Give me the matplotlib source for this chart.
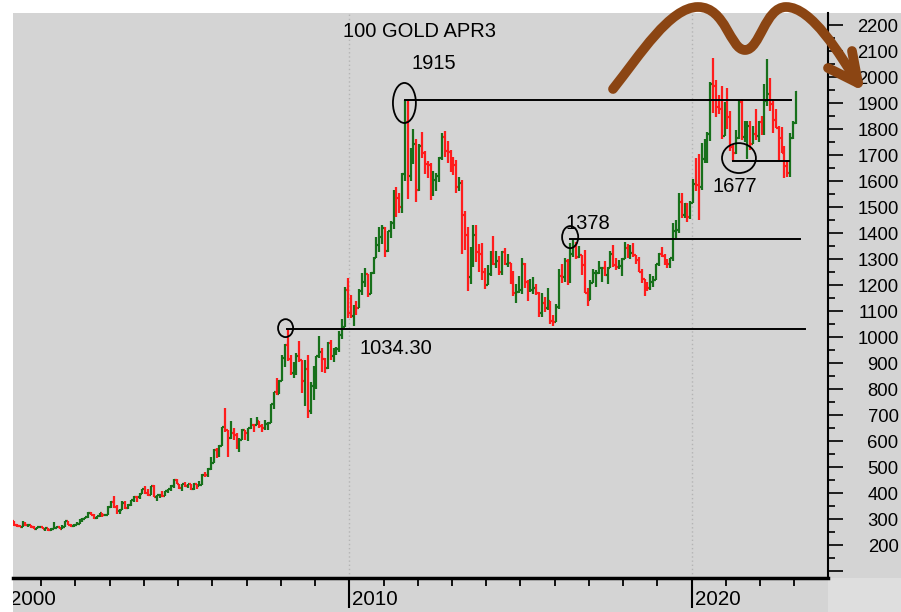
import numpy as np
import matplotlib.pyplot as plt
import matplotlib.transforms as mtransforms
from matplotlib.collections import LineCollection
from matplotlib.lines import Line2D
from matplotlib.patches import Ellipse, Rectangle, PathPatch
from matplotlib.path import Path

plt.rcParams['font.family'] = ['Liberation Sans', 'DejaVu Sans']

# monthly gold bars, Jan 2000 .. Jan 2023 (open = previous close)
start_year = 2000
first_open = 290
closes = [
    283, 293, 278, 274, 272, 288, 277, 278, 273, 264, 270, 273,  # 2000
    265, 267, 258, 264, 267, 271, 265, 273, 293, 279, 275, 279,  # 2001
    282, 297, 302, 308, 326, 318, 305, 312, 324, 316, 318, 347,  # 2002
    368, 348, 334, 337, 364, 346, 354, 375, 388, 386, 398, 416,  # 2003
    400, 396, 427, 388, 393, 395, 391, 408, 416, 429, 452, 438,  # 2004
    422, 435, 428, 435, 417, 435, 429, 434, 473, 470, 495, 517,  # 2005
    569, 556, 583, 654, 643, 613, 633, 624, 599, 604, 646, 632,  # 2006
    650, 665, 662, 679, 659, 650, 666, 673, 743, 789, 783, 834,  # 2007
    923, 972, 917, 864, 886, 930, 913, 833, 880, 718, 814, 884,  # 2008
    928, 943, 916, 883, 979, 927, 955, 955, 1008, 1040, 1182, 1096,  # 2009
    1081, 1117, 1113, 1180, 1213, 1244, 1169, 1248, 1307, 1357, 1385, 1421,  # 2010
    1333, 1410, 1439, 1556, 1536, 1502, 1628, 1828, 1620, 1722, 1746, 1566,  # 2011
    1738, 1710, 1669, 1664, 1562, 1604, 1622, 1692, 1773, 1719, 1714, 1675,  # 2012
    1663, 1578, 1596, 1472, 1393, 1234, 1313, 1396, 1327, 1323, 1250, 1202,  # 2013
    1244, 1326, 1284, 1296, 1250, 1327, 1282, 1287, 1211, 1172, 1175, 1184,  # 2014
    1283, 1213, 1183, 1183, 1190, 1172, 1095, 1133, 1115, 1142, 1065, 1061,  # 2015
    1118, 1238, 1233, 1293, 1215, 1322, 1351, 1309, 1316, 1277, 1173, 1146,  # 2016
    1211, 1249, 1249, 1268, 1268, 1242, 1269, 1322, 1280, 1271, 1275, 1303,  # 2017
    1345, 1318, 1325, 1316, 1299, 1253, 1224, 1201, 1191, 1215, 1222, 1282,  # 2018
    1321, 1313, 1292, 1284, 1305, 1409, 1413, 1520, 1472, 1513, 1464, 1517,  # 2019
    1589, 1585, 1577, 1687, 1730, 1781, 1975, 1967, 1886, 1879, 1776, 1898,  # 2020
    1847, 1734, 1708, 1769, 1907, 1770, 1814, 1814, 1743, 1783, 1774, 1829,  # 2021
    1797, 1909, 1937, 1897, 1837, 1807, 1766, 1711, 1660, 1633, 1768, 1824,  # 2022
    1945,  # 2023
]
highs = [
    292, 313, 295, 282, 278, 293, 290, 280, 278, 275, 272, 275,
    272, 269, 268, 266, 292, 276, 272, 278, 294, 292, 284, 281,
    289, 302, 304, 310, 327, 330, 323, 315, 326, 324, 322, 350,
    372, 389, 354, 342, 370, 371, 360, 376, 390, 388, 400, 417,
    427, 417, 428, 431, 395, 396, 409, 409, 417, 431, 454, 456,
    438, 436, 446, 437, 436, 441, 431, 448, 474, 481, 497, 541,
    571, 576, 587, 654, 730, 646, 677, 650, 632, 612, 649, 641,
    652, 690, 665, 694, 680, 669, 683, 676, 745, 790, 845, 838,
    932, 976, 1034.3, 932, 905, 940, 988, 915, 912, 933, 827, 889,
    928, 1007, 958, 921, 983, 989, 959, 962, 1024, 1070, 1195, 1227,
    1162, 1126, 1140, 1185, 1249, 1266, 1245, 1250, 1310, 1388, 1425, 1432,
    1424, 1411, 1447, 1569, 1577, 1556, 1632, 1915, 1910, 1730, 1803, 1764,
    1745, 1791, 1718, 1677, 1670, 1641, 1633, 1693, 1787, 1796, 1755, 1722,
    1694, 1684, 1617, 1605, 1488, 1424, 1347, 1433, 1434, 1361, 1362, 1267,
    1280, 1333, 1392, 1331, 1315, 1332, 1345, 1322, 1288, 1255, 1207, 1238,
    1307, 1285, 1223, 1224, 1232, 1205, 1175, 1170, 1157, 1191, 1142, 1088,
    1128, 1263, 1283, 1304, 1303, 1362, 1378, 1367, 1352, 1318, 1337, 1191,
    1220, 1264, 1261, 1296, 1270, 1296, 1270, 1331, 1357, 1306, 1299, 1306,
    1366, 1361, 1356, 1365, 1316, 1309, 1262, 1220, 1214, 1243, 1237, 1284,
    1326, 1347, 1320, 1302, 1306, 1439, 1453, 1555, 1557, 1517, 1516, 1525,
    1611, 1689, 1704, 1747, 1765, 1789, 1984, 2075, 1992, 1933, 1966, 1906,
    1959, 1873, 1746, 1798, 1913, 1916, 1834, 1834, 1834, 1814, 1877, 1831,
    1853, 1976, 2070, 1998, 1910, 1880, 1814, 1808, 1735, 1682, 1786, 1833,
    1949,
]
lows = [
    280, 282, 276, 272, 270, 272, 276, 270, 268, 263, 263, 268,
    263, 255, 255, 255, 263, 266, 262, 264, 271, 277, 271, 271,
    277, 282, 289, 300, 306, 316, 302, 301, 310, 310, 314, 317,
    344, 344, 322, 322, 335, 341, 342, 352, 368, 367, 380, 397,
    399, 392, 393, 386, 371, 384, 386, 389, 400, 411, 423, 435,
    418, 411, 425, 421, 414, 414, 418, 428, 432, 463, 465, 489,
    517, 538, 539, 581, 637, 542, 611, 605, 571, 561, 604, 607,
    603, 648, 637, 662, 651, 637, 645, 643, 670, 726, 780, 781,
    833, 888, 911, 857, 846, 857, 907, 786, 736, 690, 704, 759,
    801, 921, 866, 864, 879, 913, 905, 932, 946, 996, 1040, 1075,
    1075, 1044, 1088, 1113, 1163, 1196, 1157, 1175, 1245, 1308, 1330, 1360,
    1308, 1329, 1381, 1419, 1462, 1478, 1480, 1602, 1532, 1600, 1669, 1523,
    1564, 1691, 1627, 1613, 1527, 1546, 1564, 1597, 1683, 1695, 1672, 1636,
    1626, 1555, 1562, 1321, 1338, 1180, 1207, 1271, 1292, 1251, 1221, 1187,
    1202, 1238, 1277, 1268, 1240, 1241, 1280, 1273, 1205, 1161, 1131, 1170,
    1167, 1191, 1142, 1175, 1169, 1162, 1077, 1080, 1098, 1106, 1052, 1046,
    1062, 1110, 1208, 1212, 1200, 1208, 1310, 1301, 1305, 1241, 1171, 1123,
    1146, 1209, 1195, 1245, 1214, 1236, 1205, 1267, 1271, 1260, 1263, 1236,
    1302, 1307, 1303, 1310, 1282, 1250, 1211, 1160, 1180, 1183, 1196, 1221,
    1276, 1309, 1280, 1266, 1267, 1295, 1381, 1400, 1459, 1458, 1445, 1454,
    1517, 1562, 1451, 1568, 1670, 1671, 1757, 1863, 1849, 1860, 1765, 1776,
    1802, 1717, 1677, 1705, 1765, 1761, 1750, 1688, 1722, 1746, 1759, 1753,
    1780, 1780, 1890, 1872, 1787, 1805, 1681, 1709, 1615, 1617, 1616, 1765,
    1823,
]

# support / resistance marks
levels = [1034.30, 1378, 1677, 1915]
level_text = ['1034.30', '1378', '1677', '1915']
level_from = [2008.17, 2016.46, 2021.21, 2011.62]
level_to = [2023.30, 2023.16, 2022.84, 2022.90]
text_at = [(2011.35, 956), (2016.97, 1440), (2021.26, 1579), (2012.47, 2054)]
ring_at = [(2008.14, 1036), (2016.45, 1386), (2021.38, 1690), (2011.61, 1902)]
ring_size = [(0.44, 69), (0.47, 85), (0.99, 115), (0.67, 154)]

title = '100 GOLD APR3'
year_labels = [2000, 2010, 2020]
price_labels = list(range(100, 2201, 100))

UP, DOWN = '#17701b', '#ff1c1c'
BG = '#d4d4d4'
W, H = 901, 612

fig = plt.figure(figsize=(W / 100, H / 100), dpi=100)
fig.patch.set_facecolor('white')
fig.add_artist(Rectangle((13 / W, 0), 1 - 13 / W, 1 - 13 / H, transform=fig.transFigure,
                         facecolor=BG, edgecolor='none', zorder=-2))
fig.add_artist(Rectangle((828 / W, 0), 1 - 828 / W, 34 / H, transform=fig.transFigure,
                         facecolor='#dedede', edgecolor='none', zorder=-1))
ax = fig.add_axes([13 / W, 34 / H, 815 / W, 565 / H])
ax.set_facecolor(BG)

# OHLC bars
c = np.array(closes, float)
hi = np.array(highs, float)
lo = np.array(lows, float)
o = np.r_[first_open, c[:-1]]
t = start_year + (np.arange(len(c)) + 0.5) / 12
half = 0.5 / 12
segs, cols = [], []
for x, op, hh, ll, cl in zip(t, o, hi, lo, c):
    col = UP if cl >= op else DOWN
    segs += [[(x, min(ll, op, cl)), (x, max(hh, op, cl))],
             [(x - half, op), (x, op)],
             [(x, cl), (x + half, cl)]]
    cols += [col] * 3
ax.add_collection(LineCollection(segs, colors=cols, linewidths=1.6, capstyle='butt', zorder=3))

for yr in year_labels[1:]:
    ax.axvline(yr, color='#b4b4b4', lw=1, ls=(0, (1, 2)), zorder=1)

# levels, rings and their labels
for lv, txt, x0, x1, (tx, ty), (rx, ry), (rw, rh) in zip(
        levels, level_text, level_from, level_to, text_at, ring_at, ring_size):
    ax.plot([x0, x1], [lv, lv], color='black', lw=1.4, zorder=4)
    ax.add_patch(Ellipse((rx, ry), rw, rh, fill=False, edgecolor='black', lw=1.3, zorder=5))
    ax.text(tx, ty, txt, ha='center', va='center', fontsize=14.5, zorder=6)
ax.text(2012.04, 2175, title, ha='center', va='center', fontsize=14.5)

# axes styling
for s in ['top', 'left']:
    ax.spines[s].set_visible(False)
ax.spines['right'].set_linewidth(1.5)
ax.spines['bottom'].set_linewidth(2.5)

ax.yaxis.tick_right()
ax.set_yticks(price_labels)
ax.set_yticklabels(['' if v < 200 else str(v) for v in price_labels])
ax.set_yticks(np.arange(150, 2250, 100), minor=True)
ax.tick_params(axis='y', which='major', length=10.8, width=1.2, pad=40, labelsize=13.3)
ax.tick_params(axis='y', which='minor', length=5, width=1.2)
plt.setp(ax.yaxis.get_majorticklabels(), ha='right')

ax.set_xticks(year_labels)
ax.set_xticks(np.arange(2001, 2024), minor=True)
ax.tick_params(axis='x', which='major', length=21.6, width=1.5, labelbottom=False)
ax.tick_params(axis='x', which='minor', length=5.8, width=1.3)

# limits after the ticks, so set_xticks does not widen the view
ax.set_xlim(2000.18, 2023.98)
ax.set_ylim(75, 2248)

clip = mtransforms.TransformedBbox(mtransforms.Bbox([[13 / W, 0], [1, 1]]), fig.transFigure)
for yr in year_labels:
    lab = ax.annotate(str(yr), xy=(yr, 0), xycoords=('data', 'axes fraction'),
                      xytext=(3, -12), textcoords='offset pixels',
                      ha='left', va='top', fontsize=14.8, annotation_clip=False)
    lab.set_clip_box(clip)
    lab.set_clip_on(True)

# hand-drawn double-top arrow, in pixel coordinates from the top-left corner
px = mtransforms.Affine2D().scale(1 / W, -1 / H).translate(0, 1) + fig.transFigure
curve = [(613, 89), (640, 55), (670, 7), (698, 7), (726, 7), (730, 50), (745, 50),
         (760, 50), (765, 7), (786, 7), (812, 7), (840, 55), (858, 83)]
codes = [Path.MOVETO] + [Path.CURVE4] * 12
fig.add_artist(PathPatch(Path(curve, codes), transform=px, fill=False, edgecolor='#8b4513',
                         lw=7, capstyle='round', joinstyle='round', zorder=5))
head = [(852, 51), (858, 83), (828, 68)]
fig.add_artist(Line2D([p[0] for p in head], [p[1] for p in head], transform=px,
                      color='#8b4513', lw=7, solid_capstyle='round',
                      solid_joinstyle='round', zorder=5))

fig.savefig('out.png', dpi=100)
